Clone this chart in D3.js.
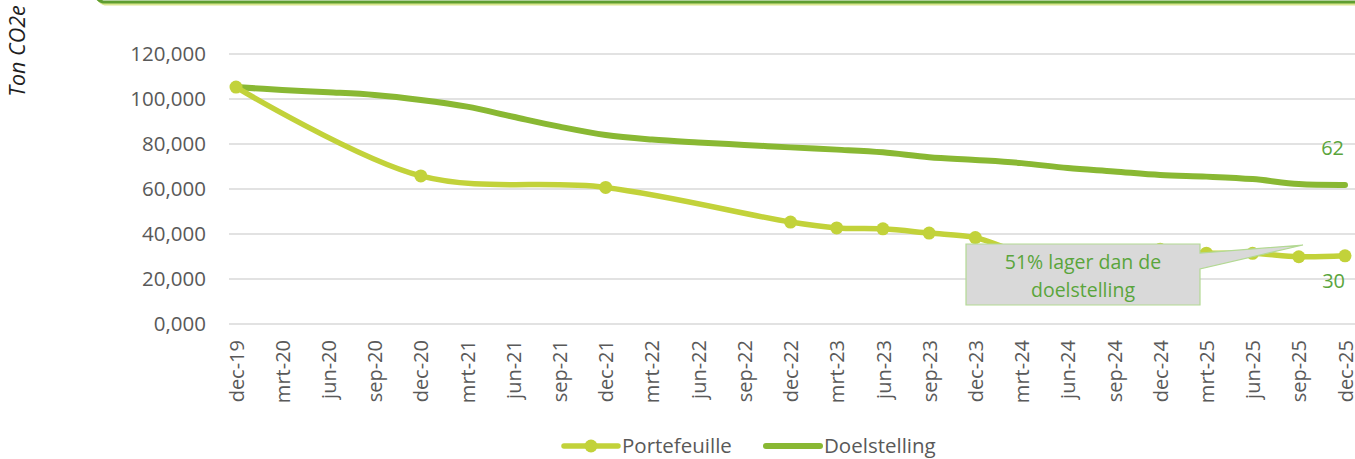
<!DOCTYPE html>
<html>
<head>
<meta charset="utf-8">
<script src="https://cdn.jsdelivr.net/npm/d3@7/dist/d3.min.js"></script>
<style>
  html, body { margin: 0; padding: 0; background: #fff; }
  svg { display: block; font-family: "Open Sans", "Noto Sans", sans-serif; }
</style>
</head>
<body>
<svg id="chart" width="1355" height="459"></svg>
<script>
// ---- data ----
const categories = ["dec-19","mrt-20","jun-20","sep-20","dec-20","mrt-21","jun-21","sep-21","dec-21",
  "mrt-22","jun-22","sep-22","dec-22","mrt-23","jun-23","sep-23","dec-23","mrt-24","jun-24","sep-24",
  "dec-24","mrt-25","jun-25","sep-25","dec-25"];

// Portefeuille: only measured points (yearly until dec-22, quarterly afterwards)
const portefeuilleDates = ["dec-19","dec-20","dec-21","dec-22","mrt-23","jun-23","sep-23","dec-23",
  "mrt-24","jun-24","sep-24","dec-24","mrt-25","jun-25","sep-25","dec-25"];
const portefeuilleValues = [105300, 65800, 60700, 45300, 42700, 42300, 40400, 38400,
  32000, 32200, 32600, 33200, 31500, 31400, 29900, 30300];

const doelstellingValues = [105300, 104000, 103000, 101800, 99600, 96600, 92100, 87700, 84000,
  82000, 80700, 79600, 78500, 77500, 76300, 74100, 72900, 71500, 69300, 67800,
  66200, 65500, 64400, 62200, 61800];

const yTicks = [0, 20000, 40000, 60000, 80000, 100000, 120000];
const yTickLabels = ["0,000","20,000","40,000","60,000","80,000","100,000","120,000"];

const seriesNames = ["Portefeuille", "Doelstelling"];
const endLabels = ["30", "62"];
const calloutLines = ["51% lager dan de", "doelstelling"];
const yTitle = "Ton CO2e";

// ---- styles ----
const colPort = "#c2d23a";
const colDoel = "#89b833";
const textGreen = "#5aa53c";
const gridCol = "#d9d9d9";
const tickCol = "#595959";

const svg = d3.select("#chart");

// top frame (bottom edge of a rounded box above the chart)
svg.append("rect").attr("x", 97).attr("y", -40).attr("width", 1300).attr("height", 44)
  .attr("rx", 10).attr("fill", "none").attr("stroke", "#dbe68f").attr("stroke-width", 3);
svg.append("rect").attr("x", 95).attr("y", -40).attr("width", 1300).attr("height", 42)
  .attr("rx", 10).attr("fill", "none").attr("stroke", "#5f9e30").attr("stroke-width", 3);

const x = d3.scalePoint().domain(categories).range([236, 1345]);
const y = d3.scaleLinear().domain([0, 120000]).range([324, 54]);

// gridlines
svg.append("g").selectAll("line").data(yTicks).join("line")
  .attr("x1", 229).attr("x2", 1355)
  .attr("y1", d => y(d)).attr("y2", d => y(d))
  .attr("stroke", gridCol).attr("stroke-width", 1.5);

// y tick labels
svg.append("g").selectAll("text").data(yTicks).join("text")
  .attr("x", 206).attr("y", d => y(d)).attr("dy", "0.36em")
  .attr("text-anchor", "end").attr("font-size", 20.5).attr("fill", tickCol)
  .text((d, i) => yTickLabels[i]);

// x tick labels
svg.append("g").selectAll("text").data(categories).join("text")
  .attr("transform", d => `translate(${x(d) + 1},340) rotate(-90)`)
  .attr("dy", "0.33em").attr("text-anchor", "end")
  .attr("font-size", 20).attr("fill", tickCol)
  .text(d => d);

// y title
svg.append("text").attr("transform", "translate(25,51) rotate(-90)")
  .attr("text-anchor", "middle").attr("font-size", 21.5).attr("font-style", "italic")
  .attr("fill", "#1e1e1e").text(yTitle);

const curve = d3.curveCatmullRom.alpha(0.5);

// Doelstelling line
const doelData = categories.map((c, i) => ({ c, v: doelstellingValues[i] }));
svg.append("path").datum(doelData)
  .attr("d", d3.line().x(d => x(d.c)).y(d => y(d.v)).curve(curve))
  .attr("fill", "none").attr("stroke", colDoel).attr("stroke-width", 6)
  .attr("stroke-linecap", "round");

// Portefeuille line + markers
const portData = portefeuilleDates.map((c, i) => ({ c, v: portefeuilleValues[i] }));
svg.append("path").datum(portData)
  .attr("d", d3.line().x(d => x(d.c)).y(d => y(d.v)).curve(curve))
  .attr("fill", "none").attr("stroke", colPort).attr("stroke-width", 5.5)
  .attr("stroke-linecap", "round");
svg.append("g").selectAll("circle").data(portData).join("circle")
  .attr("cx", d => x(d.c)).attr("cy", d => y(d.v)).attr("r", 6.5)
  .attr("fill", colPort);

// end labels
svg.append("text").attr("x", 1344).attr("y", 155).attr("text-anchor", "end")
  .attr("font-size", 20).attr("fill", textGreen).text(endLabels[1]);
svg.append("text").attr("x", 1345).attr("y", 288).attr("text-anchor", "end")
  .attr("font-size", 20).attr("fill", textGreen).text(endLabels[0]);

// callout
const cx0 = 966, cx1 = 1200, cy0 = 244, cy1 = 305;
svg.append("path")
  .attr("d", `M${cx0},${cy0}H${cx1}V253L1303,245L${cx1},269V${cy1}H${cx0}Z`)
  .attr("fill", "#d9d9d9").attr("stroke", "#b3d993").attr("stroke-width", 1.2);
svg.append("g").selectAll("text").data(calloutLines).join("text")
  .attr("x", (cx0 + cx1) / 2).attr("y", (d, i) => 269 + i * 28)
  .attr("text-anchor", "middle").attr("font-size", 19.5).attr("fill", textGreen)
  .text(d => d);

// legend
const lg = svg.append("g");
lg.append("line").attr("x1", 564).attr("x2", 618).attr("y1", 446).attr("y2", 446)
  .attr("stroke", colPort).attr("stroke-width", 5.5).attr("stroke-linecap", "round");
lg.append("circle").attr("cx", 591).attr("cy", 446).attr("r", 6.5).attr("fill", colPort);
lg.append("text").attr("x", 622).attr("y", 446).attr("dy", "0.36em")
  .attr("font-size", 20.5).attr("fill", tickCol).text(seriesNames[0]);
lg.append("line").attr("x1", 766).attr("x2", 820).attr("y1", 446).attr("y2", 446)
  .attr("stroke", colDoel).attr("stroke-width", 6).attr("stroke-linecap", "round");
lg.append("text").attr("x", 824).attr("y", 446).attr("dy", "0.36em")
  .attr("font-size", 20.5).attr("fill", tickCol).text(seriesNames[1]);
</script>
</body>
</html>
